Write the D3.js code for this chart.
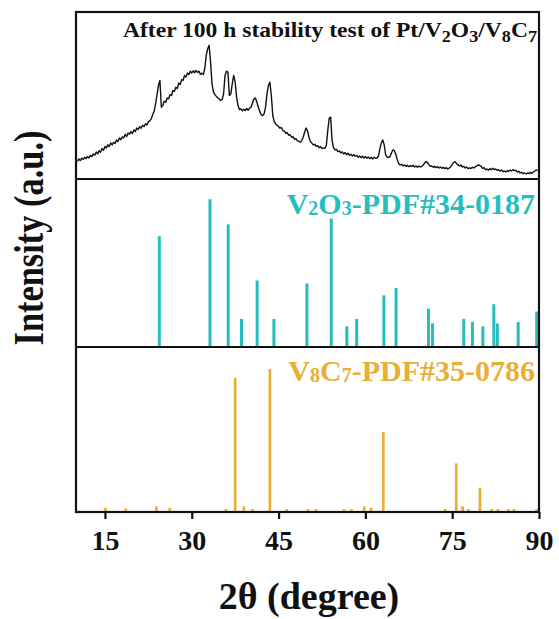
<!DOCTYPE html>
<html>
<head>
<meta charset="utf-8">
<script src="https://cdn.jsdelivr.net/npm/d3@7"></script>
<style>
  html, body { margin: 0; padding: 0; background: #fff; }
  svg { display: block; }
  text { font-family: "Liberation Serif", "Times New Roman", serif; font-weight: bold; }
</style>
</head>
<body>
<svg id="chart" width="559" height="619"></svg>
<script>
// Measured pattern after the 100 h stability test (2θ scan, 0.25° steps from 10.25°)
const scanStart = 10.25;
const scanStep = 0.25;
const scanIntensity = [
  10.5, 12.0, 11.0, 12.5,   // 10
  11.8, 13.0, 12.2, 13.5,   // 11
  12.6, 14.2, 13.4, 15.0,   // 12
  14.3, 16.2, 15.0, 17.0,   // 13
  16.0, 18.2, 17.2, 19.5,   // 14
  18.6, 20.5, 19.4, 21.6,   // 15
  20.4, 22.0, 21.2, 23.4,   // 16
  22.4, 24.6, 23.5, 25.2,   // 17
  24.6, 26.8, 25.4, 27.6,   // 18
  26.8, 28.4, 27.2, 29.4,   // 19
  28.4, 30.6, 29.6, 31.4,   // 20
  30.4, 32.2, 31.4, 33.0,   // 21
  32.4, 34.2, 34.8, 36.0,   // 22
  38.5, 40.5, 45.0, 50.5,   // 23
  56.0, 59.0, 43.0, 44.0,   // 24
  46.5, 46.0, 48.5, 48.0,   // 25
  50.5, 50.0, 53.0, 52.5,   // 26
  55.0, 54.2, 57.5, 56.5,   // 27
  59.5, 59.0, 62.0, 61.0,   // 28
  63.5, 62.5, 64.5, 63.5,   // 29
  64.8, 63.6, 65.0, 63.8,   // 30
  64.5, 62.6, 63.4, 62.5,   // 31
  66.0, 74.0, 78.0, 80.0,   // 32
  70.0, 57.0, 52.0, 50.5,   // 33
  49.5, 48.5, 48.0, 47.0,   // 34
  47.5, 51.0, 62.0, 64.5,   // 35
  64.0, 50.0, 51.0, 57.0,   // 36
  62.0, 58.0, 49.0, 44.0,   // 37
  41.5, 42.0, 40.8, 41.8,   // 38
  41.0, 42.2, 41.2, 42.5,   // 39
  43.0, 45.5, 48.0, 48.5,   // 40
  46.0, 43.0, 40.5, 38.5,   // 41
  38.0, 39.0, 43.0, 51.0,   // 42
  56.0, 58.0, 50.0, 38.0,   // 43
  34.5, 33.0, 32.2, 31.5,   // 44
  30.4, 30.8, 29.0, 28.6,   // 45
  27.4, 27.8, 26.2, 26.5,   // 46
  25.0, 25.4, 23.8, 24.2,   // 47
  22.8, 22.6, 22.0, 23.0,   // 48
  25.0, 28.0, 30.5, 29.0,   // 49
  25.0, 22.5, 21.5, 20.4,   // 50
  20.8, 19.6, 20.0, 18.8,   // 51
  19.4, 18.2, 18.6, 18.4,   // 52
  20.0, 29.0, 36.5, 37.0,   // 53
  23.0, 18.8, 17.4, 17.8,   // 54
  16.4, 16.8, 15.6, 16.2,   // 55
  15.0, 15.8, 14.6, 15.4,   // 56
  14.2, 14.8, 13.8, 14.6,   // 57
  13.6, 14.2, 13.0, 13.8,   // 58
  12.8, 13.6, 12.6, 13.4,   // 59
  12.4, 13.2, 12.2, 13.0,   // 60
  12.0, 13.0, 12.4, 12.6,   // 61
  13.6, 18.0, 21.5, 23.4,   // 62
  20.5, 14.6, 13.2, 12.8,   // 63
  13.4, 15.6, 17.4, 17.0,   // 64
  14.8, 11.6, 9.2, 8.4,     // 65
  8.8, 7.8, 8.4, 7.6,       // 66
  8.2, 7.4, 8.0, 7.6,       // 67
  8.2, 7.2, 7.8, 7.0,       // 68
  7.8, 7.2, 7.6, 8.4,       // 69
  9.6, 10.4, 9.8, 8.4,      // 70
  7.6, 7.8, 7.0, 7.6,       // 71
  6.8, 7.4, 6.6, 7.2,       // 72
  6.4, 7.0, 6.2, 6.8,       // 73
  6.0, 6.6, 7.4, 8.8,       // 74
  10.0, 10.4, 9.2, 8.6,     // 75
  7.8, 8.4, 7.2, 7.6,       // 76
  6.6, 7.2, 6.2, 6.6,       // 77
  6.4, 7.0, 6.6, 7.4,       // 78
  7.8, 8.4, 8.2, 7.6,       // 79
  6.4, 6.8, 5.6, 6.0,       // 80
  5.2, 6.2, 5.6, 6.4,       // 81
  5.6, 6.0, 5.2, 5.6,       // 82
  4.8, 5.4, 4.4, 4.8,       // 83
  4.2, 5.0, 4.6, 5.4,       // 84
  4.8, 5.6, 5.0, 5.2,       // 85
  4.2, 4.6, 3.6, 4.0,       // 86
  3.2, 3.6, 3.0, 3.6,       // 87
  3.2, 4.0, 3.4, 4.2,       // 88
  4.6, 5.4, 5.0             // 89
];

// V2O3 reference pattern (PDF#34-0187): positions and relative intensities
const v2o3Angles = [24.4, 33.15, 36.3, 38.6, 41.3, 44.2, 49.9, 54.1, 56.8, 58.5, 63.2, 65.3, 70.9, 71.6, 77.0, 78.5, 80.3, 82.2, 82.8, 86.4, 89.6];
const v2o3Intensity = [75, 100, 83, 19, 45, 19, 43, 87, 14, 19, 35, 40, 26, 16, 19, 17, 14, 29, 16, 17, 24];

// V8C7 reference pattern (PDF#35-0786)
const v8c7Angles = [15.1, 18.6, 23.9, 26.2, 35.9, 37.5, 39.0, 40.5, 43.5, 46.4, 50.1, 51.5, 56.3, 57.6, 59.8, 61.0, 63.1, 73.8, 75.7, 76.8, 77.8, 79.8, 81.8, 82.9, 84.7, 85.7, 89.6];
const v8c7Intensity = [3, 2.5, 4, 3, 2, 94, 4, 2, 100, 2, 2, 2, 2, 2, 4, 3, 56, 2, 34, 4, 2, 17, 2, 2, 2, 2, 2];

const xTicks = [15, 30, 45, 60, 75, 90];

const colors = { scan: "#111", v2o3: "#25BEC0", v8c7: "#E8AF37", frame: "#111" };

const svg = d3.select("#chart");
const plot = { left: 76, right: 539, top: 12, div1: 179, div2: 347, bottom: 512 };

const x = d3.scaleLinear().domain([10, 90]).range([plot.left, plot.right]);
const yScan = d3.scaleLinear().domain([0, 100]).range([plot.div1, plot.top]);
const yV2O3 = d3.scaleLinear().domain([0, 100]).range([plot.div2, 199.3]);
const yV8C7 = d3.scaleLinear().domain([0, 100]).range([plot.bottom, 369]);

// Measured scan line
const scan = scanIntensity.map((v, i) => [scanStart + i * scanStep, v]);
svg.append("path")
  .datum(scan)
  .attr("fill", "none")
  .attr("stroke", colors.scan)
  .attr("stroke-width", 1.4)
  .attr("stroke-linejoin", "round")
  .attr("d", d3.line().x(d => x(d[0])).y(d => yScan(d[1])));

// Reference sticks
svg.append("g").selectAll("line")
  .data(v2o3Angles.map((a, i) => [a, v2o3Intensity[i]]))
  .join("line")
  .attr("x1", d => x(d[0])).attr("x2", d => x(d[0]))
  .attr("y1", yV2O3(0)).attr("y2", d => yV2O3(d[1]))
  .attr("stroke", colors.v2o3)
  .attr("stroke-width", 3);

svg.append("g").selectAll("line")
  .data(v8c7Angles.map((a, i) => [a, v8c7Intensity[i]]))
  .join("line")
  .attr("x1", d => x(d[0])).attr("x2", d => x(d[0]))
  .attr("y1", yV8C7(0)).attr("y2", d => yV8C7(d[1]))
  .attr("stroke", colors.v8c7)
  .attr("stroke-width", 2.7);

// Frame and panel dividers
const frame = svg.append("g").attr("fill", "none").attr("stroke", colors.frame).attr("stroke-width", 2.2);
frame.append("rect")
  .attr("x", plot.left).attr("y", plot.top)
  .attr("width", plot.right - plot.left).attr("height", plot.bottom - plot.top);
[plot.div1, plot.div2].forEach(yy => {
  frame.append("line").attr("x1", plot.left).attr("x2", plot.right).attr("y1", yy).attr("y2", yy);
});

// Bottom axis
const xAxis = d3.axisBottom(x).tickValues(xTicks).tickSize(7).tickPadding(11).tickSizeOuter(0);
const ax = svg.append("g").attr("transform", `translate(0,${plot.bottom})`).call(xAxis);
ax.select(".domain").remove();
ax.selectAll(".tick line").attr("stroke", colors.frame).attr("stroke-width", 2.2);
ax.selectAll(".tick text")
  .attr("fill", "#111")
  .style("font-family", '"Liberation Serif", serif')
  .style("font-weight", "bold")
  .style("font-size", "28px");

// Chemical formula with subscripts: a subscript tspan shifts down, the next run shifts back
function addFormula(t, parts, subSize, subDy) {
  let shifted = false;
  parts.forEach(p => {
    const span = t.append("tspan").text(p.s);
    if (p.sub) {
      span.style("font-size", subSize).attr("dy", subDy);
      shifted = true;
    } else if (shifted) {
      span.attr("dy", -subDy);
      shifted = false;
    }
  });
}

const title = svg.append("text")
  .attr("x", 537).attr("y", 37)
  .attr("text-anchor", "end")
  .attr("fill", "#111")
  .style("font-size", "22px")
  .attr("textLength", 414)
  .attr("lengthAdjust", "spacingAndGlyphs");
addFormula(title, [
  { s: "After 100 h stability test of Pt/V" }, { s: "2", sub: true },
  { s: "O" }, { s: "3", sub: true }, { s: "/V" }, { s: "8", sub: true },
  { s: "C" }, { s: "7", sub: true }
], "17px", 5);

const lab1 = svg.append("text")
  .attr("x", 535).attr("y", 214)
  .attr("text-anchor", "end")
  .attr("fill", colors.v2o3)
  .style("font-size", "30px");
addFormula(lab1, [
  { s: "V" }, { s: "2", sub: true }, { s: "O" }, { s: "3", sub: true }, { s: "-PDF#34-0187" }
], "20px", 1);

const lab2 = svg.append("text")
  .attr("x", 535).attr("y", 381)
  .attr("text-anchor", "end")
  .attr("fill", colors.v8c7)
  .style("font-size", "30px");
addFormula(lab2, [
  { s: "V" }, { s: "8", sub: true }, { s: "C" }, { s: "7", sub: true }, { s: "-PDF#35-0786" }
], "20px", 1);

// Axis titles
svg.append("text")
  .attr("transform", "translate(43,238) rotate(-90)")
  .attr("text-anchor", "middle")
  .attr("fill", "#111")
  .style("font-size", "42px")
  .attr("textLength", 215)
  .attr("lengthAdjust", "spacingAndGlyphs")
  .text("Intensity (a.u.)");

svg.append("text")
  .attr("x", 309).attr("y", 609)
  .attr("text-anchor", "middle")
  .attr("fill", "#111")
  .style("font-size", "38px")
  .text("2θ (degree)");
</script>
</body>
</html>
